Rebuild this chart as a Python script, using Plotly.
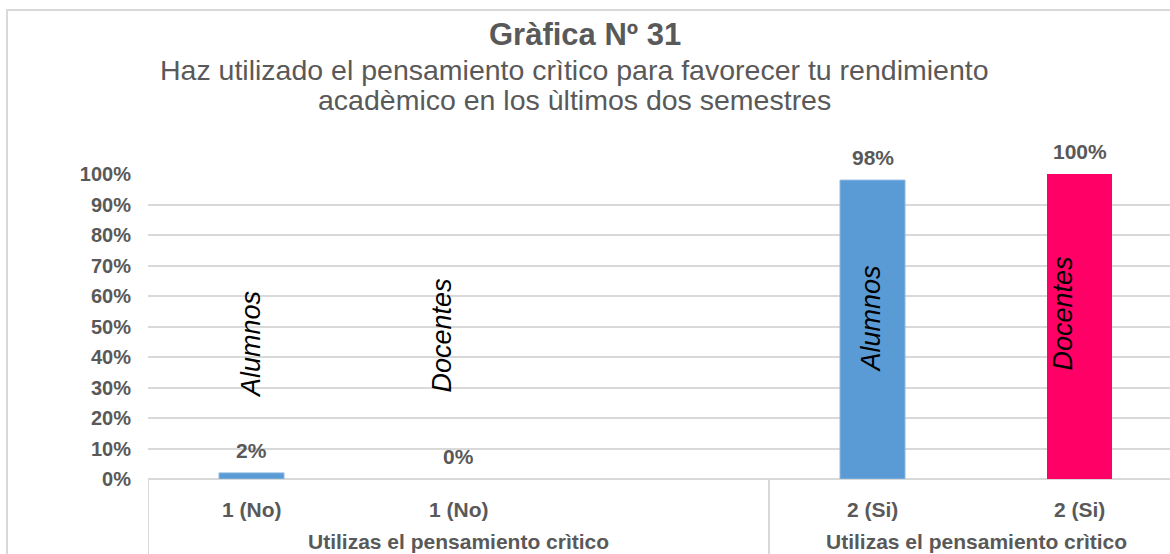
import plotly.graph_objects as go

# ---------------- data ----------------
series_names = ["Alumnos", "Docentes"]
alumnos_values = [0.02, 0.98]
docentes_values = [0.00, 1.00]
category_labels = ["1 (No)", "2 (Si)"]
group_labels = ["Utilizas el pensamiento crìtico", "Utilizas el pensamiento crìtico"]
y_ticks = [0, 0.1, 0.2, 0.3, 0.4, 0.5, 0.6, 0.7, 0.8, 0.9, 1.0]
title_text = "Gràfica Nº 31"
subtitle_lines = ["Haz utilizado el pensamiento crìtico para favorecer tu rendimiento",
                  "acadèmico en los ùltimos dos semestres"]

# ---------------- layout constants ----------------
W, H = 1170, 554
ML, MR, MT, MB = 148, 0, 174, 75
SLOT_PX = 207
group_slots = [3, 2]          # group 1 has an empty third slot (as in the source)
colors = {"Alumnos": "#5B9BD5", "Docentes": "#FF0066"}
GRAY = "#595959"
GRID = "#d9d9d9"
FONT = "Liberation Sans, Arial, sans-serif"
LBL = 21

plot_w = W - ML - MR
plot_h = H - MT - MB
x_max = plot_w / SLOT_PX

# slot centres per group
group_starts = [0, group_slots[0]]
alumnos_x = [g + 0.5 for g in group_starts]
docentes_x = [g + 1.5 for g in group_starts]

fig = go.Figure()
fig.add_trace(go.Bar(x=alumnos_x, y=alumnos_values, width=65 / SLOT_PX,
                     marker=dict(color=colors["Alumnos"], line=dict(color="#8DB8E3", width=1)),
                     name="Alumnos", hoverinfo="y"))
fig.add_trace(go.Bar(x=docentes_x, y=docentes_values, width=65 / SLOT_PX,
                     marker=dict(color=colors["Docentes"], line=dict(width=0)),
                     name="Docentes", hoverinfo="y"))

ann = []
# value labels
for xs, vals in ((alumnos_x, alumnos_values), (docentes_x, docentes_values)):
    for x, v in zip(xs, vals):
        ann.append(dict(x=x, y=v, xref="x", yref="y", text=f"{v:.0%}", showarrow=False,
                        yanchor="bottom", yshift=9,
                        font=dict(family=FONT, size=LBL, color=GRAY, weight="bold")))

# series name labels (rotated)
for i, (x, v) in enumerate(zip(alumnos_x, alumnos_values)):
    ann.append(dict(x=x, y=0.441 if i == 0 else v * 0.535, xref="x", yref="y", text="Alumnos",
                    showarrow=False, textangle=-90, xshift=-1,
                    font=dict(family=FONT, size=27, color="#000000", style="italic")))
for i, (x, v) in enumerate(zip(docentes_x, docentes_values)):
    ann.append(dict(x=x, y=0.469 if i == 0 else v * 0.541, xref="x", yref="y", text="Docentes",
                    showarrow=False, textangle=-90, xshift=-17,
                    font=dict(family=FONT, size=27, color="#000000", style="italic")))

# category labels
for xs in (alumnos_x, docentes_x):
    for gi, x in enumerate(xs):
        ann.append(dict(x=x, y=0, xref="x", yref="paper", text=category_labels[gi],
                        showarrow=False, yanchor="middle", yshift=-30,
                        font=dict(family=FONT, size=LBL, color=GRAY, weight="bold")))
# group labels
for gi, (start, n) in enumerate(zip(group_starts, group_slots)):
    ann.append(dict(x=start + n / 2, y=0, xref="x", yref="paper", text=group_labels[gi],
                    showarrow=False, yanchor="middle", yshift=-62,
                    font=dict(family=FONT, size=LBL, color=GRAY, weight="bold")))

# titles
def px_to_paper_x(px):
    return (px - ML) / plot_w

def px_to_paper_y(py):
    return (H - MB - py) / plot_h

ann.append(dict(x=px_to_paper_x(585), y=px_to_paper_y(35), xref="paper", yref="paper",
                text=f"<b>{title_text}</b>", showarrow=False, yanchor="middle",
                font=dict(family=FONT, size=31, color=GRAY)))
for li, (line, ypx) in enumerate(zip(subtitle_lines, [70, 100])):
    ann.append(dict(x=px_to_paper_x(574), y=px_to_paper_y(ypx), xref="paper", yref="paper",
                    text=line, showarrow=False, yanchor="middle",
                    font=dict(family=FONT, size=28.5, color=GRAY)))

shapes = []
# group divider lines below the axis
for b in [0, group_slots[0]]:
    shapes.append(dict(type="line", xref="x", yref="paper", x0=b, x1=b, y0=0, y1=-0.4,
                       line=dict(color=GRID, width=2)))
# outer chart border
shapes.append(dict(type="rect", xref="paper", yref="paper",
                   x0=px_to_paper_x(7), x1=px_to_paper_x(W + 20),
                   y0=px_to_paper_y(H + 20), y1=px_to_paper_y(10),
                   line=dict(color=GRID, width=2), fillcolor="rgba(0,0,0,0)", layer="below"))

fig.update_layout(
    width=W, height=H,
    margin=dict(l=ML, r=MR, t=MT, b=MB, pad=0),
    paper_bgcolor="white", plot_bgcolor="white",
    showlegend=False,
    barmode="overlay",
    annotations=ann,
    shapes=shapes,
    xaxis=dict(range=[0, x_max], showticklabels=False, showgrid=False, zeroline=False,
               showline=False, fixedrange=True),
    yaxis=dict(range=[0, 1], tickvals=y_ticks, tickformat=".0%",
               showgrid=True, gridcolor=GRID, gridwidth=1.5,
               zeroline=True, zerolinecolor=GRID, zerolinewidth=2,
               showline=False, ticks="", ticklabelstandoff=16,
               tickfont=dict(family=FONT, size=20, color=GRAY, weight="bold"),
               fixedrange=True),
)

fig.write_html("out.html", config={"displayModeBar": False},
               post_script="document.body.style.margin='0';")
